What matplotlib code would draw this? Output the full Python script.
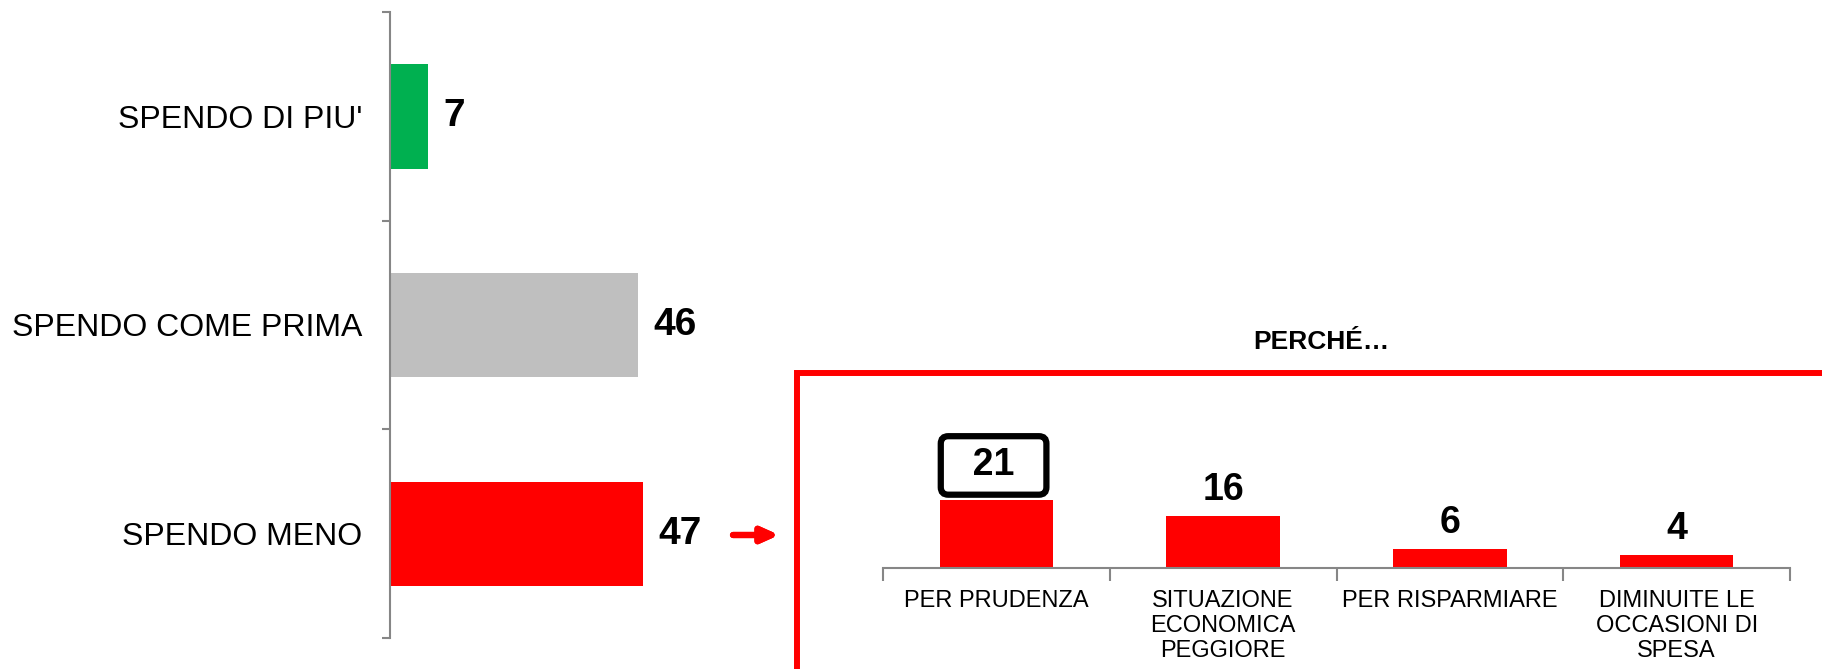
import matplotlib.pyplot as plt
from matplotlib.patches import Rectangle

plt.rcParams['font.family'] = ['Liberation Sans', 'DejaVu Sans']

# main question
answers = ["SPENDO DI PIU'", "SPENDO COME PRIMA", "SPENDO MENO"]
answer_vals = [7, 46, 47]
answer_cols = ['#00B050', '#BFBFBF', '#FF0000']

# follow-up: why spend less
reasons = ["PER PRUDENZA", "SITUAZIONE\nECONOMICA\nPEGGIORE", "PER RISPARMIARE",
           "DIMINUITE LE\nOCCASIONI DI\nSPESA"]
reason_vals = [21, 16, 6, 4]

W, H = 1822, 669
fig = plt.figure(figsize=(W / 100, H / 100), dpi=100)

# left chart
ax1 = fig.add_axes([390 / W, 1 - 638 / H, 323 / W, 626 / H])
ypos = list(range(len(answers)))
ax1.barh(ypos, answer_vals, height=0.5, color=answer_cols)
ax1.set_ylim(len(answers) - 0.5, -0.5)
ax1.set_xlim(0, 60)
for y, v in zip(ypos, answer_vals):
    ax1.annotate(str(v), (v, y), xytext=(11, 0), textcoords='offset points',
                 ha='left', va='center', fontsize=28, fontweight='bold')
ax1.set_yticks(ypos)
ax1.set_yticklabels(answers, fontsize=23)
ax1.set_yticks([i - 0.5 for i in range(len(answers) + 1)], minor=True)
ax1.tick_params(axis='y', which='major', length=0, pad=20)
ax1.tick_params(axis='y', which='minor', length=6, width=1.5, color='#868686')
ax1.set_xticks([])
for s in ['top', 'right', 'bottom']:
    ax1.spines[s].set_visible(False)
ax1.spines['left'].set_color('#868686')
ax1.spines['left'].set_linewidth(1.5)

# right chart
ax2 = fig.add_axes([883 / W, 1 - 568 / H, 907 / W, 130 / H])
xpos = list(range(len(reasons)))
ax2.bar(xpos, reason_vals, width=0.5, color='#FF0000')
ax2.set_xlim(-0.5, len(reasons) - 0.5)
ax2.set_ylim(0, 40)
for x, v in zip(xpos, reason_vals):
    if x == 0:
        ax2.annotate("  " + str(v) + "  ", (x, v), xytext=(-2, 17.5),
                     textcoords='offset points', ha='center', va='baseline',
                     fontsize=27, fontweight='bold',
                     bbox=dict(boxstyle='round,pad=0.3,rounding_size=0.2',
                               fc='white', ec='black', lw=4.5))
    else:
        ax2.annotate(str(v), (x, v), xytext=(0, 11.5), textcoords='offset points',
                     ha='center', va='baseline', fontsize=27, fontweight='bold')
ax2.set_xticks(xpos)
ax2.set_xticklabels(reasons, fontsize=17, linespacing=1.17)
ax2.set_xticks([i - 0.5 for i in range(len(reasons) + 1)], minor=True)
ax2.tick_params(axis='x', which='major', length=0, pad=16)
ax2.tick_params(axis='x', which='minor', length=9, width=1.5, color='#868686')
ax2.set_yticks([])
for s in ['top', 'right', 'left']:
    ax2.spines[s].set_visible(False)
ax2.spines['bottom'].set_color('#868686')
ax2.spines['bottom'].set_linewidth(1.5)

# red frame, title and arrow
fig.patches.append(Rectangle((797 / W, -0.05), 1.2, 1 - 373 / H + 0.05,
                             transform=fig.transFigure, fill=False,
                             ec='#FF0000', lw=4.3))
fig.text(1321 / W, 1 - 342 / H, "PERCHÉ…", ha='center', va='center',
         fontsize=19, fontweight='bold')
fig.add_artist(plt.annotate('', xy=(779 / W, 1 - 535 / H), xytext=(733 / W, 1 - 535 / H),
                            xycoords='figure fraction',
                            arrowprops=dict(arrowstyle='-|>,head_length=1.0,head_width=0.45',
                                            color='#FF0000', lw=4.5, shrinkA=0, shrinkB=0)))

fig.savefig('out.png', dpi=100)
